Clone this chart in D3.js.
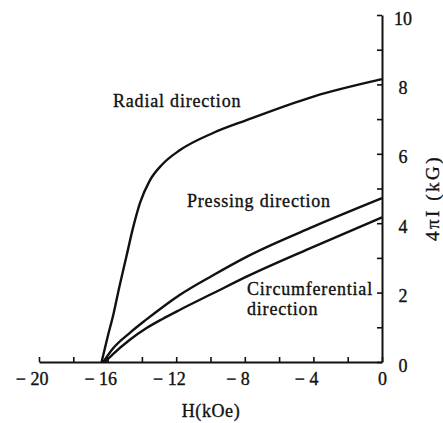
<!DOCTYPE html>
<html>
<head>
<meta charset="utf-8">
<script src="https://cdn.jsdelivr.net/npm/d3@7"></script>
<style>
  body { margin: 0; background: #fff; }
</style>
</head>
<body>
<svg id="chart" width="443" height="423"></svg>
<script>
// values: H in kOe, 4piI in kG
var radialH = [-16.35, -16.0, -15.65, -15.3, -14.9, -14.5, -14.1, -13.55, -12.8, -11.8, -9.85, -7.9, -4.0, 0];
var radialI = [0, 0.72, 1.4, 2.2, 3.05, 3.9, 4.6, 5.22, 5.7, 6.1, 6.6, 6.97, 7.65, 8.15];

var pressingH = [-16.25, -15.7, -14.7, -13.75, -12.8, -11.8, -9.85, -7.9, -4.0, 0];
var pressingI = [0, 0.38, 0.84, 1.22, 1.58, 1.93, 2.5, 3.03, 3.9, 4.72];

var circH = [-16.15, -15.7, -14.7, -13.75, -12.8, -11.8, -9.85, -7.9, -4.0, 0];
var circI = [0, 0.22, 0.64, 0.97, 1.24, 1.5, 1.98, 2.46, 3.32, 4.17];

var xTicks = [-20, -18, -16, -14, -12, -10, -8, -6, -4, -2, 0];
var xLabels = [-20, -16, -12, -8, -4, 0];
var yTicks = [0, 1, 2, 3, 4, 5, 6, 7, 8, 9, 10];
var yLabels = [0, 2, 4, 6, 8, 10];

var serif = "'Liberation Serif', 'DejaVu Serif', serif";

var svg = d3.select("#chart");

var x = d3.scaleLinear().domain([-20, 0]).range([39, 382]);
var y = d3.scaleLinear().domain([0, 10]).range([362, 15]);

// heavier text, the scan prints thick
function ink(sel){
  sel.style("font-family", serif)
    .attr("fill", "#111")
    .attr("stroke", "#111")
    .attr("stroke-width", 0.35);
}

// x axis, ticks point up into the plot
var xAxis = d3.axisBottom(x)
  .tickValues(xTicks)
  .tickSize(-5)
  .tickSizeOuter(0)
  .tickPadding(10)
  .tickFormat(function(d){
    if (xLabels.indexOf(d) < 0) return "";
    return d < 0 ? "\u2212 " + Math.abs(d) : String(d);
  });

var xg = svg.append("g").attr("transform", "translate(0," + y(0) + ")").call(xAxis);
xg.attr("font-family", null);
xg.select(".domain").attr("stroke", "#111").attr("stroke-width", 2);
xg.selectAll(".tick line").attr("stroke", "#111").attr("stroke-width", 1.6);
xg.selectAll(".tick text")
  .call(ink)
  .style("font-size", "18px")
  .attr("text-anchor", "end")
  .attr("dx", function(d){ return (String(Math.abs(d)).length * 4.5) + "px"; });

// y axis on the right, ticks point left
var yAxis = d3.axisRight(y)
  .tickValues(yTicks)
  .tickSize(-5)
  .tickSizeOuter(0)
  .tickFormat(function(d){ return yLabels.indexOf(d) < 0 ? "" : String(d); });

var yg = svg.append("g").attr("transform", "translate(" + x(0) + ",0)").call(yAxis);
yg.attr("font-family", null);
yg.select(".domain").attr("stroke", "#111").attr("stroke-width", 2);
yg.selectAll(".tick line").attr("stroke", "#111").attr("stroke-width", 1.6);
yg.selectAll(".tick text")
  .call(ink)
  .style("font-size", "18px")
  .attr("text-anchor", "middle")
  .attr("x", 21)
  .attr("dy", "0.5em");

// curves
var line = d3.line()
  .x(function(d){ return x(d[0]); })
  .y(function(d){ return y(d[1]); })
  .curve(d3.curveMonotoneX);

var series = [
  { h: radialH, v: radialI },
  { h: pressingH, v: pressingI },
  { h: circH, v: circI }
];

series.forEach(function(s){
  svg.append("path")
    .datum(d3.zip(s.h, s.v))
    .attr("d", line)
    .attr("fill", "none")
    .attr("stroke", "#111")
    .attr("stroke-width", 2.4)
    .attr("stroke-linejoin", "round");
});

// curve labels
function label(txt, px, py){
  svg.append("text")
    .attr("x", px).attr("y", py)
    .call(ink)
    .style("font-size", "18px")
    .style("letter-spacing", "0.8px")
    .text(txt);
}
label("Radial direction", 113, 107);
label("Pressing direction", 187, 207);
label("Circumferential", 247, 295);
label("direction", 247, 315);

// axis titles
svg.append("text")
  .attr("x", 211).attr("y", 417)
  .attr("text-anchor", "middle")
  .call(ink)
  .style("font-size", "18px")
  .style("letter-spacing", "0.6px")
  .text("H(kOe)");

svg.append("text")
  .attr("transform", "translate(439,198) rotate(-90)")
  .attr("text-anchor", "middle")
  .call(ink)
  .style("font-size", "19px")
  .style("letter-spacing", "2.5px")
  .text("4\u03c0I (kG)");
</script>
</body>
</html>
